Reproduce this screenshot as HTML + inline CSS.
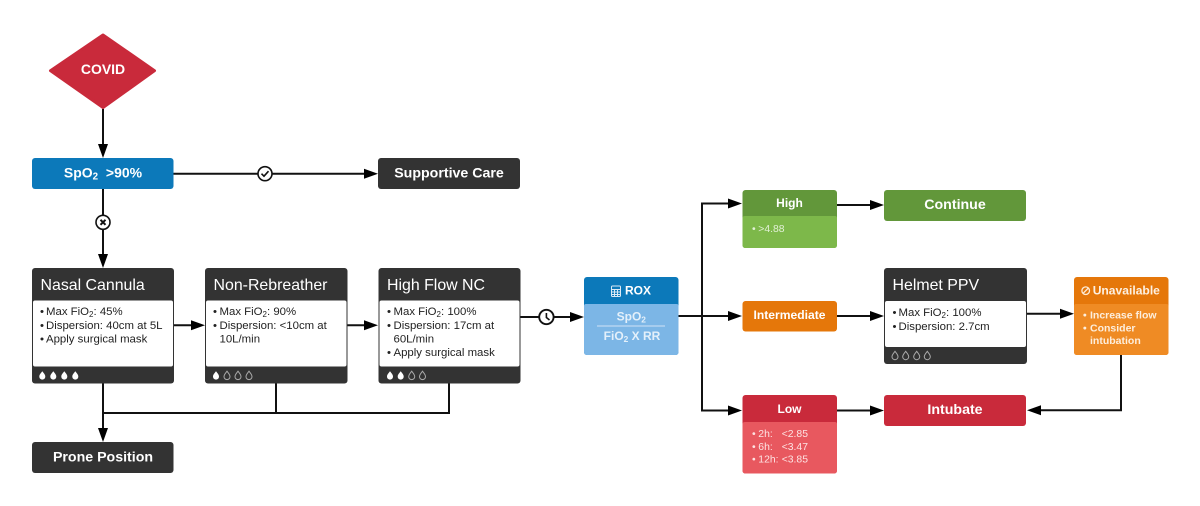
<!DOCTYPE html>
<html><head><meta charset="utf-8"><style>
html,body{margin:0;padding:0;background:#fff;width:1200px;height:506px;overflow:hidden}
svg{display:block}
text{font-family:"Liberation Sans",sans-serif}
.b{font-weight:700;fill:#fff;text-anchor:middle}
.t{fill:#fff;font-size:15.9px}
.d{fill:#222;font-size:11.4px}
.l{fill:none;stroke:#111;stroke-width:2}
.s{font-size:70%}
</style></head><body>
<svg width="1200" height="506" viewBox="0 0 1200 506" xmlns="http://www.w3.org/2000/svg">
<defs>
<path id="drop" d="M0,-4.200 C1.600,-2 3,-.8 3,1.200 A3,3 0 0 1 -3,1.200 C-3,-.8 -1.600,-2 0,-4.200Z"/>
</defs>
<!-- connectors -->
<g class="l">
<path d="M103 109V146M103 189V256M173 173.700H366M174 325.300H193M347 325.300H366M520 317H572M678 316H730M702 316V203.500H730M702 316V410.500H730M837 205H872M837 316H872M1027 313.800H1062M1121 355V410.300H1039M837 410.500H872M103 383V430M103 413H449V383M276 383V413"/>
</g>
<g fill="#000">
<path d="M103 158L98 144H108Z"/>
<path d="M103 268L98 254H108Z"/>
<path d="M378 173.700L364 168.700V178.700Z"/>
<path d="M205 325.300L191 320.300V330.300Z"/>
<path d="M378 325.300L364 320.300V330.300Z"/>
<path d="M584 317L570 312V322Z"/>
<path d="M742 203.500L728 198.500V208.500Z"/>
<path d="M742 316L728 311V321Z"/>
<path d="M742 410.500L728 405.500V415.500Z"/>
<path d="M884 205L870 200V210Z"/>
<path d="M884 316L870 311V321Z"/>
<path d="M884 410.500L870 405.500V415.500Z"/>
<path d="M1074 313.800L1060 308.800V318.800Z"/>
<path d="M1027 410.300L1041 405.300V415.300Z"/>
<path d="M103 442L98 428H108Z"/>
</g>
<!-- circle badges -->
<g fill="#fff" stroke="#111" stroke-width="1.600">
<circle cx="265" cy="173.700" r="7"/><circle cx="103" cy="222.300" r="7"/><circle cx="546.400" cy="317" r="7.200" stroke-width="1.900"/>
</g>
<g fill="none" stroke="#111" stroke-width="1.600">
<path d="M261.500 173.700L264 176.200L268.500 171.200"/>
<path d="M100.500 219.800L105.500 224.800M105.500 219.800L100.500 224.800" stroke-width="2"/>
<path d="M546.400 313V317.500L549.500 320"/>
</g>
<!-- COVID -->
<path d="M103 35L154.500 70.700L103 107.500L50.500 70.700Z" fill="#c92a3b" stroke="#c92a3b" stroke-width="3" stroke-linejoin="round"/>
<text class="b" x="103" y="74" font-size="14">COVID</text>
<!-- SpO2 -->
<rect x="32" y="158" width="141.500" height="31" rx="3" fill="#0c79ba"/>
<text class="b" x="103" y="177.500" font-size="14">SpO<tspan class="s" dy="2">2</tspan><tspan dy="-2" xml:space="preserve">  &gt;90%</tspan></text>
<!-- Supportive -->
<rect x="378" y="158" width="142" height="31" rx="3" fill="#333"/>
<text class="b" x="449" y="177.500" font-size="14.200">Supportive Care</text>
<!-- Nasal -->
<rect x="32" y="268" width="142" height="115.500" rx="3" fill="#333"/>
<rect x="33" y="300.500" width="140" height="66" rx="2" fill="#fff"/>
<text class="t" x="40.500" y="290">Nasal Cannula</text>
<text class="d"><tspan x="40" y="315">•</tspan><tspan x="46" y="315">Max FiO<tspan class="s" dy="2">2</tspan><tspan dy="-2">: 45%</tspan></tspan><tspan x="40" y="329">•</tspan><tspan x="46" y="329">Dispersion: 40cm at 5L</tspan><tspan x="40" y="342.500">•</tspan><tspan x="46" y="342.500">Apply surgical mask</tspan></text>
<g fill="#fff"><use href="#drop" x="42.300" y="375.400"/><use href="#drop" x="53.300" y="375.400"/><use href="#drop" x="64.300" y="375.400"/><use href="#drop" x="75.300" y="375.400"/></g>
<!-- Non-Rebreather -->
<rect x="205" y="268" width="142.500" height="115.500" rx="3" fill="#333"/>
<rect x="206" y="300.500" width="140.500" height="66" rx="2" fill="#fff"/>
<text class="t" x="213.500" y="290">Non-Rebreather</text>
<text class="d"><tspan x="213" y="315">•</tspan><tspan x="219.500" y="315">Max FiO<tspan class="s" dy="2">2</tspan><tspan dy="-2">: 90%</tspan></tspan><tspan x="213" y="329">•</tspan><tspan x="219.500" y="329">Dispersion: &lt;10cm at</tspan><tspan x="219.500" y="342.500">10L/min</tspan></text>
<use href="#drop" x="216" y="375.400" fill="#fff"/>
<g fill="none" stroke="#aaa" stroke-width="1"><use href="#drop" x="227" y="375.400"/><use href="#drop" x="238" y="375.400"/><use href="#drop" x="249" y="375.400"/></g>
<!-- High Flow -->
<rect x="378.500" y="268" width="142" height="115.500" rx="3" fill="#333"/>
<rect x="379.500" y="300.500" width="140" height="66" rx="2" fill="#fff"/>
<text class="t" x="387" y="290">High Flow NC</text>
<text class="d"><tspan x="387" y="315">•</tspan><tspan x="393.500" y="315">Max FiO<tspan class="s" dy="2">2</tspan><tspan dy="-2">: 100%</tspan></tspan><tspan x="387" y="329">•</tspan><tspan x="393.500" y="329">Dispersion: 17cm at</tspan><tspan x="393.500" y="342.500">60L/min</tspan><tspan x="387" y="356">•</tspan><tspan x="393.500" y="356">Apply surgical mask</tspan></text>
<g fill="#fff"><use href="#drop" x="390" y="375.400"/><use href="#drop" x="400.700" y="375.400"/></g>
<g fill="none" stroke="#aaa" stroke-width="1"><use href="#drop" x="411.700" y="375.400"/><use href="#drop" x="422.500" y="375.400"/></g>
<!-- Prone -->
<rect x="32" y="442" width="141.500" height="31" rx="3" fill="#333"/>
<text class="b" x="103" y="461.500" font-size="14.200">Prone Position</text>
<!-- ROX -->
<rect x="584" y="277" width="94.500" height="78" rx="3" fill="#0c79ba"/>
<path d="M584 306Q584 304 586 304H676.500Q678.500 304 678.500 306V352Q678.500 355 675.500 355H587Q584 355 584 352Z" fill="#7cb6e6"/>
<g fill="none" stroke="#dceaf5" stroke-width="1"><rect x="611.500" y="286" width="9" height="10.500" rx="1"/><path d="M612 289.500H620M612 292H620M612 294.500H620M614.500 289.500V296M617.500 289.500V296"/></g>
<text class="b" x="638" y="294.500" font-size="12">ROX</text>
<text class="b" x="631.300" y="320.700" font-size="12" style="fill:#e4f0fa">SpO<tspan class="s" dy="2">2</tspan></text>
<rect x="597" y="325.500" width="68" height="1" fill="#cfe3f5"/>
<text class="b" x="632" y="340" font-size="12" style="fill:#e4f0fa">FiO<tspan class="s" dy="2">2</tspan><tspan dy="-2"> X RR</tspan></text>
<!-- High -->
<rect x="742.500" y="190" width="94.500" height="58" rx="3" fill="#62973a"/>
<path d="M742.500 218Q742.500 216 745 216H835Q837 216 837 218V245Q837 248 834 248H745.500Q742.500 248 742.500 245Z" fill="#7db84a"/>
<text class="b" x="789.500" y="207" font-size="12">High</text>
<text font-size="10.400" fill="#e2f0d6"><tspan x="752" y="232">•</tspan><tspan x="758.300" y="232">&gt;4.88</tspan></text>
<!-- Continue -->
<rect x="884" y="190" width="142" height="31" rx="3" fill="#62973a"/>
<text class="b" x="955" y="209" font-size="14.200">Continue</text>
<!-- Intermediate -->
<rect x="742.500" y="301" width="94.500" height="30.500" rx="3" fill="#e5770a"/>
<text class="b" x="789.500" y="319" font-size="12.100">Intermediate</text>
<!-- Helmet -->
<rect x="884" y="268" width="143" height="96" rx="3" fill="#333"/>
<rect x="885" y="301" width="141" height="46" rx="2" fill="#fff"/>
<text class="t" x="892.500" y="290">Helmet PPV</text>
<text class="d"><tspan x="892.500" y="316">•</tspan><tspan x="898.500" y="316">Max FiO<tspan class="s" dy="2">2</tspan><tspan dy="-2">: 100%</tspan></tspan><tspan x="892.500" y="330">•</tspan><tspan x="898.500" y="330">Dispersion: 2.7cm</tspan></text>
<g fill="none" stroke="#aaa" stroke-width="1"><use href="#drop" x="895" y="355.500"/><use href="#drop" x="905.700" y="355.500"/><use href="#drop" x="916.700" y="355.500"/><use href="#drop" x="927.300" y="355.500"/></g>
<!-- Unavailable -->
<rect x="1074" y="277" width="94.500" height="78" rx="3" fill="#e5770a"/>
<path d="M1074 306Q1074 304 1076 304H1166.500Q1168.500 304 1168.500 306V352Q1168.500 355 1165.500 355H1077Q1074 355 1074 352Z" fill="#ef8b24"/>
<g fill="none" stroke="#fdebd6" stroke-width="1.300"><circle cx="1085.700" cy="290.700" r="3.800"/><path d="M1083 293.400L1088.400 288"/></g>
<text x="1092.700" y="294.500" font-size="12.100" font-weight="700" fill="#fdf0e2">Unavailable</text>
<text font-size="10.500" font-weight="700" fill="#fdeedd"><tspan x="1083" y="318.700">•</tspan><tspan x="1090" y="318.700">Increase flow</tspan><tspan x="1083" y="331.500">•</tspan><tspan x="1090" y="331.500">Consider</tspan><tspan x="1090" y="344.200">intubation</tspan></text>
<!-- Low -->
<rect x="742.500" y="395" width="94.500" height="78.500" rx="3" fill="#c92a3b"/>
<path d="M742.500 424Q742.500 422 745 422H835Q837 422 837 424V470.500Q837 473.500 834 473.500H745.500Q742.500 473.500 742.500 470.500Z" fill="#e8585f"/>
<text class="b" x="789.500" y="413" font-size="12">Low</text>
<text font-size="10.400" fill="#fde3e3"><tspan x="752" y="437">•</tspan><tspan x="758.300" y="437">2h:</tspan><tspan x="781.700" y="437">&lt;2.85</tspan><tspan x="752" y="449.800">•</tspan><tspan x="758.300" y="449.800">6h:</tspan><tspan x="781.700" y="449.800">&lt;3.47</tspan><tspan x="752" y="462.600">•</tspan><tspan x="758.300" y="462.600">12h:</tspan><tspan x="781.700" y="462.600">&lt;3.85</tspan></text>
<!-- Intubate -->
<rect x="884" y="395" width="142" height="31" rx="3" fill="#c92a3b"/>
<text class="b" x="955" y="414" font-size="14.200">Intubate</text>
</svg>
</body></html>
